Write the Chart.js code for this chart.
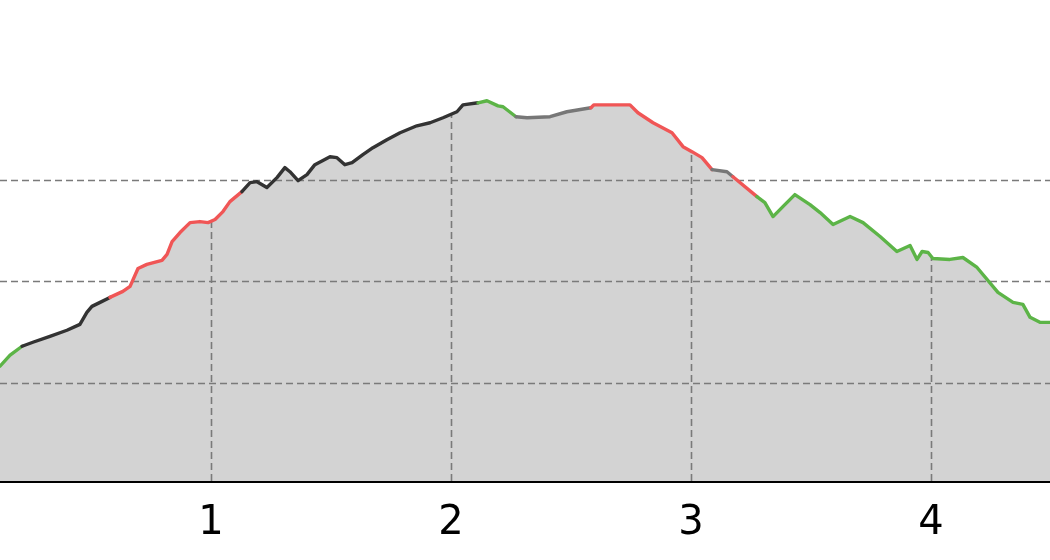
<!DOCTYPE html>
<html>
<head>
<meta charset="utf-8">
<script src="https://cdn.jsdelivr.net/npm/chart.js@4.4.1/dist/chart.umd.min.js"></script>
<style>
  html, body { margin: 0; padding: 0; background: #ffffff; }
  #wrap { width: 1050px; height: 560px; }
</style>
</head>
<body>
<div id="wrap"><canvas id="c"></canvas></div>
<script>
// ---- data ----
const distance = [0.121,0.163,0.213,0.258,0.329,0.4,0.454,0.483,0.504,0.538,
  0.579,0.633,0.663,0.696,0.733,0.796,0.817,0.838,0.871,0.913,
  0.954,0.988,1.017,1.05,1.079,1.129,1.163,1.192,1.233,1.275,
  1.308,1.329,1.363,1.4,1.433,1.496,1.525,1.558,1.588,1.633,
  1.675,1.733,1.788,1.858,1.913,1.967,2.025,2.05,2.113,2.15,
  2.196,2.217,2.271,2.317,2.413,2.483,2.583,2.596,2.746,2.779,
  2.842,2.921,2.967,3.004,3.046,3.088,3.15,3.175,3.275,3.308,
  3.342,3.383,3.433,3.496,3.538,3.592,3.663,3.717,3.788,3.858,
  3.913,3.942,3.963,3.988,4.008,4.079,4.133,4.192,4.279,4.342,
  4.383,4.413,4.454,4.496];
const elevation = [116.7,127.5,136.3,140.2,146.1,152.0,157.8,169.6,175.5,179.4,
  184.3,190.2,195.1,212.7,216.7,220.6,226.5,239.2,248.0,257.8,
  258.8,257.8,260.8,268.6,278.4,288.2,297.1,298.0,292.2,302.0,
  311.8,307.8,299.0,304.9,314.7,322.5,321.6,314.7,316.7,324.5,
  331.4,339.2,346.1,352.9,355.9,360.8,366.7,373.5,375.5,377.5,
  372.5,371.6,361.8,360.8,361.8,366.7,370.6,373.5,373.5,365.7,
  355.9,346.1,332.4,327.5,321.6,309.8,307.8,302.9,283.3,277.5,
  263.7,273.5,285.3,275.5,267.6,255.9,263.7,257.8,244.1,229.4,
  235.3,221.6,229.4,228.4,222.5,221.6,223.5,213.7,189.2,179.4,
  177.5,164.7,159.8,159.8];
// class of the segment starting at each point
const segmentClass = [
  'g','g',
  'd','d','d','d','d','d','d','d',
  'r','r','r','r','r','r','r','r','r','r','r','r','r','r','r',
  'd','d','d','d','d','d','d','d','d','d','d','d','d','d','d','d','d','d','d','d','d','d','d',
  'g','g','g','g',
  'n','n','n','n',
  'r','r','r','r','r','r','r','r','r',
  'n','n',
  'r',
  'g','g','g','g','g','g','g','g','g','g','g','g','g','g','g','g','g','g','g','g','g','g','g','g','g','g'];
const xTicks = [1, 2, 3, 4];
const yGrid = [100, 200, 300];
const xRange = [0.121, 4.496];
const yRange = [3.9, 476.5];

// ---- styles ----
const classColor = { g: '#5cb447', r: '#f05656', d: '#333333', n: '#777777' };
const gridColor = '#7a7a7a';

const points = distance.map((x, i) => ({ x: x, y: elevation[i] }));

const gridPlugin = {
  id: 'profileGrid',
  beforeDatasetsDraw(chart) {
    const ctx = chart.ctx, area = chart.chartArea;
    const xs = chart.scales.x, ys = chart.scales.y;
    const pts = chart.getDatasetMeta(0).data;
    ctx.save();
    ctx.strokeStyle = gridColor;
    ctx.lineWidth = 1.6;
    ctx.setLineDash([7, 4]);
    yGrid.forEach(v => {
      const py = Math.round(ys.getPixelForValue(v)) + 0.5;
      ctx.beginPath();
      ctx.moveTo(area.left, py);
      ctx.lineTo(area.right, py);
      ctx.stroke();
    });
    xTicks.forEach(v => {
      const px = xs.getPixelForValue(v);
      let top = area.bottom;
      for (let i = 0; i < pts.length - 1; i++) {
        const a = pts[i], b = pts[i + 1];
        if (px >= a.x && px <= b.x) {
          const t = (px - a.x) / (b.x - a.x || 1);
          top = a.y + t * (b.y - a.y);
          break;
        }
      }
      const pxr = Math.round(px) + 0.5;
      ctx.beginPath();
      ctx.moveTo(pxr, area.bottom);
      ctx.lineTo(pxr, top);
      ctx.stroke();
    });
    ctx.restore();
  }
};

new Chart(document.getElementById('c'), {
  type: 'line',
  data: {
    datasets: [{
      // filled profile area
      data: points,
      borderWidth: 0,
      borderColor: 'rgba(0,0,0,0)',
      backgroundColor: '#d3d3d3',
      fill: 'start',
      pointRadius: 0,
      tension: 0
    }, {
      // coloured profile line
      data: points,
      borderWidth: 3.4,
      borderColor: '#333333',
      fill: false,
      pointRadius: 0,
      tension: 0,
      borderJoinStyle: 'round',
      borderCapStyle: 'round',
      segment: {
        borderColor: c => classColor[segmentClass[c.p0DataIndex]]
      }
    }]
  },
  options: {
    responsive: true,
    maintainAspectRatio: false,
    animation: false,
    layout: { padding: { left: 0, right: 0, top: 0, bottom: -7 } },
    plugins: {
      legend: { display: false },
      tooltip: { enabled: false },
      filler: { drawTime: 'beforeDatasetsDraw' }
    },
    scales: {
      x: {
        type: 'linear',
        min: xRange[0],
        max: xRange[1],
        z: 1,
        afterBuildTicks: s => { s.ticks = xTicks.map(v => ({ value: v })); },
        grid: { display: false, drawTicks: false },
        border: { display: true, color: '#000000', width: 3 },
        ticks: {
          autoSkip: false,
          maxRotation: 0,
          padding: 19,
          color: '#000000',
          font: { family: 'DejaVu Sans', size: 40 },
          callback: v => String(v)
        }
      },
      y: {
        display: false,
        min: yRange[0],
        max: yRange[1]
      }
    }
  },
  plugins: [gridPlugin]
});
</script>
</body>
</html>
